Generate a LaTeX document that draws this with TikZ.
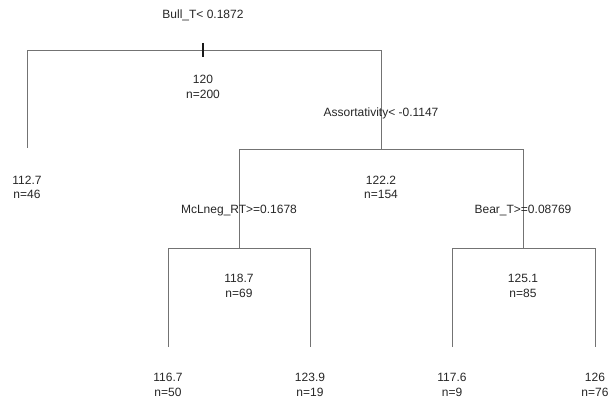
\documentclass[tikz,border=0pt]{standalone}
\usepackage{fontspec}
\setmainfont{Liberation Sans}
\begin{document}
\begin{tikzpicture}[x=1pt,y=-1pt,
  branch/.style={draw=black!55,line width=0.9pt},
  lbl/.style={anchor=base,inner sep=0pt,text=black!85,font=\fontsize{12}{14}\selectfont}]
\useasboundingbox (0,0) rectangle (610,403);
%节点
\coordinate (root) at (203,50);
\coordinate (rootL) at (27,50);
\coordinate (rootR) at (381,50);
\coordinate (leafA) at (27,148);
\coordinate (asso) at (381,149);
\coordinate (assoL) at (239,149);
\coordinate (assoR) at (523,149);
\coordinate (mcl) at (239,248);
\coordinate (mclL) at (168,248);
\coordinate (mclR) at (310,248);
\coordinate (bear) at (523,248);
\coordinate (bearL) at (452,248);
\coordinate (bearR) at (595,248);
\coordinate (leafB) at (168,347);
\coordinate (leafC) at (310,347);
\coordinate (leafD) at (452,347);
\coordinate (leafE) at (595,347);
%树枝
\draw[branch] (leafA) -- (rootL) -- (rootR) -- (asso);
\draw[branch] (mcl) -- (assoL) -- (assoR) -- (bear);
\draw[branch] (leafB) -- (mclL) -- (mclR) -- (leafC);
\draw[branch] (leafD) -- (bearL) -- (bearR) -- (leafE);
\draw[black!90,line width=1.3pt] ([yshift=7pt]root) -- ([yshift=-7pt]root);
%Text
\node[lbl] (split1) at (203,18.5) {Bull\_T< 0.1872};
\node[lbl] (val1) at (203,83.5) {120};
\node[lbl] (cnt1) at (203,98.5) {n=200};
\node[lbl] (split2) at (381,117) {Assortativity< -0.1147};
\node[lbl] (val2) at (27,185) {112.7};
\node[lbl] (cnt2) at (27,198.5) {n=46};
\node[lbl] (val3) at (381,185) {122.2};
\node[lbl] (cnt3) at (381,198.5) {n=154};
\node[lbl] (split3) at (239,214) {McLneg\_RT>=0.1678};
\node[lbl] (split4) at (523,214) {Bear\_T>=0.08769};
\node[lbl] (val4) at (239,282.5) {118.7};
\node[lbl] (cnt4) at (239,297.5) {n=69};
\node[lbl] (val5) at (523,282.5) {125.1};
\node[lbl] (cnt5) at (523,297.5) {n=85};
\node[lbl] (val6) at (168,381.5) {116.7};
\node[lbl] (cnt6) at (168,396.5) {n=50};
\node[lbl] (val7) at (310,381.5) {123.9};
\node[lbl] (cnt7) at (310,396.5) {n=19};
\node[lbl] (val8) at (452,381.5) {117.6};
\node[lbl] (cnt8) at (452,396.5) {n=9};
\node[lbl] (val9) at (595,381.5) {126};
\node[lbl] (cnt9) at (595,396.5) {n=76};
\end{tikzpicture}
\end{document}
